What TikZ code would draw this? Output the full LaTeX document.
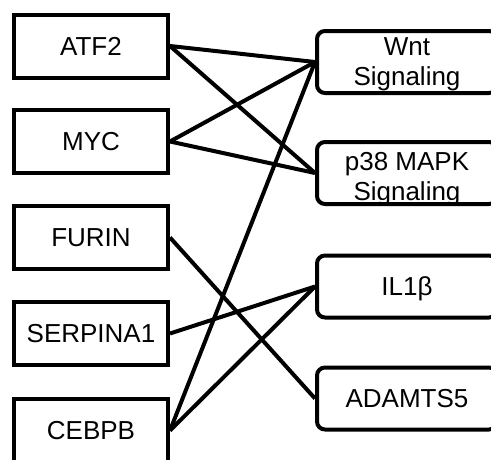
\documentclass[tikz,border=0pt]{standalone}
\usepackage{fontspec}
\setmainfont{Liberation Sans}
\begin{document}
\begin{tikzpicture}[x=1pt,y=-1pt,
  txt/.style={font=\fontsize{26}{30}\selectfont},
  gene/.style={txt, draw, line width=4pt, minimum width=154pt, minimum height=63pt, inner sep=0pt},
  path/.style={txt, draw, line width=4pt, rounded corners=8pt, minimum width=180pt, minimum height=62pt, inner sep=0pt, align=center},
  twoline/.style={txt, align=center, inner sep=0pt},
  link/.style={line width=4pt}]
\useasboundingbox (0,0) rectangle (491,459);
\begin{scope}
\clip (0,0) rectangle (491,459);
% genes
\node[gene] (atf2) at (91,46) {ATF2};
\node[gene] (myc) at (91,141.5) {MYC};
\node[gene] (furin) at (91,237.5) {FURIN};
\node[gene] (serp) at (91,333.5) {SERPINA1};
\node[gene] (cebpb) at (91,430.5) {CEBPB};
% pathways and targets
\node[path, label={[twoline, yshift=-2.5pt]center:Wnt\\Signaling}] (wnt) at (407,62) {};
\node[path, label={[twoline, yshift=-6pt]center:p38 MAPK\\Signaling}] (p38) at (407,173) {};
\node[path, text depth=0pt] (il1b) at (407,286.5) {IL1β};
\node[path] (adam) at (407,398.5) {ADAMTS5};
% links
\draw[link] (atf2.east) -- (wnt.west);
\draw[link] (atf2.east) -- (p38.west);
\draw[link] (myc.east) -- (wnt.west);
\draw[link] (myc.east) -- (p38.west);
\draw[link] (furin.east) -- (adam.west);
\draw[link] (serp.east) -- (il1b.west);
\draw[link] (cebpb.east) -- (wnt.west);
\draw[link] (cebpb.east) -- (il1b.west);
\end{scope}
\end{tikzpicture}
\end{document}
